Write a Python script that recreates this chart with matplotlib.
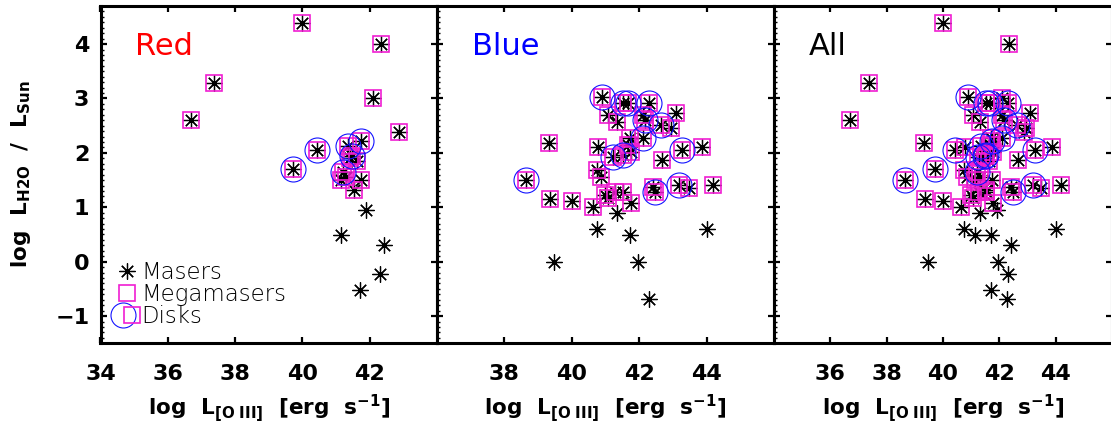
import matplotlib
matplotlib.use("Agg")
import matplotlib.pyplot as plt
import numpy as np
from matplotlib.lines import Line2D
from matplotlib.legend_handler import HandlerTuple
from matplotlib.ticker import MultipleLocator

# ---------- data ----------
# Red sample: log L[O III], log L_H2O, megamaser flag, disk flag
red_x = [40.00, 42.34, 37.38, 36.69, 42.09, 42.87, 39.73, 40.44, 41.75, 41.35,
         41.48, 41.40, 41.62, 41.20, 41.30, 41.14, 41.74, 41.54, 41.90, 41.14,
         42.43, 42.31, 41.70]
red_y = [4.38, 4.00, 3.28, 2.60, 3.00, 2.38, 1.71, 2.05, 2.22, 2.12,
         1.95, 1.90, 1.86, 1.64, 1.56, 1.50, 1.50, 1.32, 0.95, 0.49,
         0.31, -0.23, -0.52]
red_mm = [1, 1, 1, 1, 1, 1, 1, 1, 1, 1,
          1, 1, 1, 1, 1, 1, 1, 1, 0, 0,
          0, 0, 0]
red_disk = [0, 0, 0, 0, 0, 0, 1, 1, 1, 1,
            1, 0, 0, 1, 0, 0, 0, 0, 0, 0,
            0, 0, 0]

# Blue sample
blue_x = [40.89, 41.52, 41.67, 42.30, 41.08, 41.33, 42.11, 42.18, 43.08, 42.64,
          42.94, 41.72, 42.11, 39.33, 40.79, 41.23, 41.52, 41.77, 41.67, 43.28,
          43.86, 42.67, 38.64, 40.76, 40.86, 42.40, 42.48, 43.18, 43.47, 44.20,
          39.36, 40.01, 40.64, 40.98, 41.08, 41.28, 41.52, 41.77, 41.33, 40.74,
          41.72, 44.01, 39.47, 41.96, 42.28]
blue_y = [3.03, 2.91, 2.91, 2.91, 2.70, 2.57, 2.70, 2.60, 2.73, 2.51,
          2.45, 2.27, 2.27, 2.18, 2.11, 1.93, 1.96, 2.02, 2.15, 2.05,
          2.10, 1.87, 1.51, 1.69, 1.55, 1.38, 1.29, 1.41, 1.35, 1.41,
          1.15, 1.12, 1.01, 1.23, 1.17, 1.29, 1.29, 1.07, 0.89, 0.61,
          0.49, 0.61, 0.00, 0.00, -0.69]
blue_mm = [1, 1, 1, 1, 1, 1, 1, 1, 1, 1,
           1, 1, 1, 1, 1, 1, 1, 1, 1, 1,
           1, 1, 1, 1, 1, 1, 1, 1, 1, 1,
           1, 1, 1, 1, 1, 1, 1, 1, 0, 0,
           0, 0, 0, 0, 0]
blue_disk = [1, 1, 1, 1, 0, 0, 0, 1, 0, 1,
             0, 0, 1, 0, 0, 1, 1, 0, 0, 1,
             0, 0, 1, 0, 0, 0, 1, 1, 0, 0,
             0, 0, 0, 0, 0, 0, 0, 0, 0, 0,
             0, 0, 0, 0, 0]

panel_names = ["Red", "Blue", "All"]
panel_colors = ["#ff0000", "#0000ff", "#000000"]
panel_xlim = [(34, 44), (36, 46), (34, 46)]
panel_xticks = [[34, 36, 38, 40, 42], [38, 40, 42, 44], [36, 38, 40, 42, 44]]

MAG = "#f01ed2"
BLU = "#1414ff"
AST = (8, 2, 0)

plt.rcParams["font.family"] = "DejaVu Sans"
plt.rcParams["mathtext.fontset"] = "dejavusans"

W, H = 1111, 428
fig = plt.figure(figsize=(W / 100, H / 100), dpi=100)

# panel boxes in pixels (left, right); shared bottom/top
boxes = [(100.5, 437), (437, 774), (774, 1112)]
bot_px, top_px = 343.3, 6.0

samples = [
    (red_x, red_y, red_mm, red_disk),
    (blue_x, blue_y, blue_mm, blue_disk),
    (red_x + blue_x, red_y + blue_y, red_mm + blue_mm, red_disk + blue_disk),
]

axes = []
for i, (l, r) in enumerate(boxes):
    ax = fig.add_axes([l / W, (H - bot_px) / H, (r - l) / W, (bot_px - top_px) / H])
    axes.append(ax)
    x, y, mm, disk = (np.asarray(v) for v in samples[i])
    mm = mm.astype(bool)
    disk = disk.astype(bool)

    ax.plot(x, y, ls="none", marker=AST, ms=11.5, mec="k", mew=0.9)
    ax.plot(x[mm], y[mm], ls="none", marker="s", ms=11.5, mfc="none", mec=MAG, mew=1.2)
    ax.plot(x[disk], y[disk], ls="none", marker="o", ms=18, mfc="none", mec=BLU, mew=0.8)

    ax.set_xlim(*panel_xlim[i])
    ax.set_ylim(-1.5, 4.7)
    ax.set_xticks(panel_xticks[i])
    ax.set_yticks([-1, 0, 1, 2, 3, 4])
    ax.yaxis.set_minor_locator(MultipleLocator(0.1))

    for sp in ax.spines.values():
        sp.set_linewidth(2.2)
    ax.tick_params(which="major", direction="in", top=True, right=True,
                   length=4, width=1.6, labelsize=16, pad=15)
    ax.tick_params(axis="y", which="major", pad=8)
    ax.tick_params(which="minor", direction="in", left=True, right=False,
                   length=2, width=1.0)
    for lab in ax.get_xticklabels() + ax.get_yticklabels():
        lab.set_fontweight("bold")
    if i > 0:
        ax.tick_params(axis="y", labelleft=False)

    ax.set_xlabel(r"log  L$_{\mathbf{[O\ III]}}$  [erg  s$^{\mathbf{-1}}$]",
                  fontsize=15.5, fontweight="bold", labelpad=6)

    ax.text(0.1025, 0.855, panel_names[i], transform=ax.transAxes,
            color=panel_colors[i], fontsize=22, ha="left", va="baseline")

axes[0].set_ylabel(r"log  L$_{\mathbf{H2O}}$  /  L$_{\mathbf{Sun}}$",
                   fontsize=15.5, fontweight="bold", labelpad=16)

# legend in the first panel
h_ast = Line2D([], [], ls="none", marker=AST, ms=11.5, mec="k", mew=0.9)
h_sq = Line2D([], [], ls="none", marker="s", ms=11.5, mfc="none", mec=MAG, mew=1.2)
h_ci = Line2D([], [], ls="none", marker="o", ms=18, mfc="none", mec=BLU, mew=0.8)
leg = axes[0].legend([h_ast, h_sq, (h_ci, h_sq)], ["Masers", "Megamasers", "Disks"],
                     handler_map={tuple: HandlerTuple(ndivide=None)},
                     loc="lower left", bbox_to_anchor=(0.052, 0.045),
                     frameon=False, handlelength=0.8,
                     handletextpad=0.2, labelspacing=-0.05, borderpad=0,
                     borderaxespad=0, prop={"size": 16.5, "weight": "light"})

fig.savefig("out.png", dpi=100)
